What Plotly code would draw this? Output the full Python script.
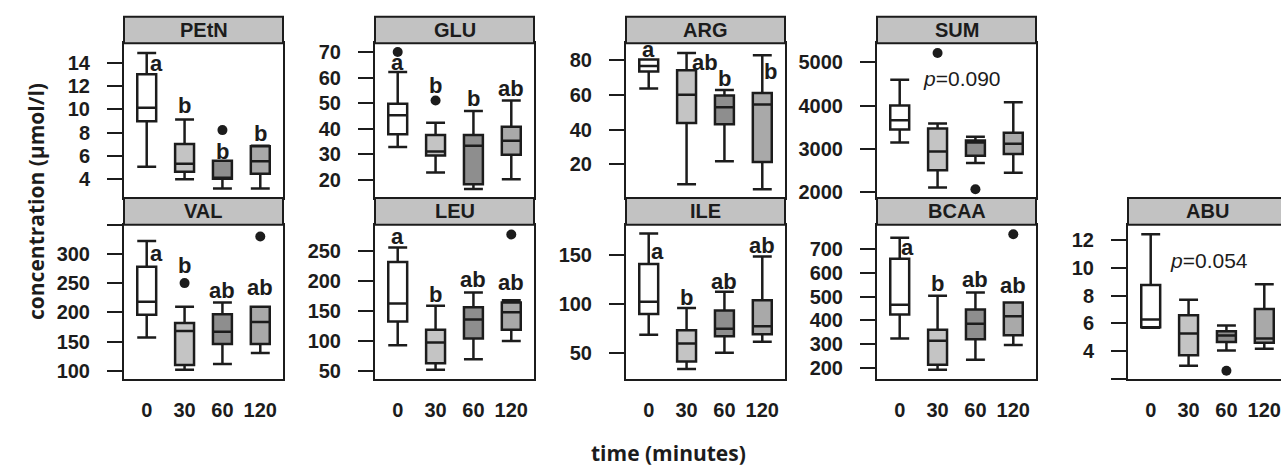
import plotly.graph_objects as go

# ---- data: box statistics per amino acid, one value per sampling time ----
times = ["0", "30", "60", "120"]

petn = dict(lower=[5.03, 3.94, 3.15, 3.15], q1=[8.98, 4.60, 4.00, 4.43],
            median=[10.15, 5.30, 4.05, 5.50], q3=[13.06, 7.00, 5.55, 6.80],
            upper=[14.9, 9.13, 5.55, 6.85])
glu = dict(lower=[32.9, 22.9, 16.5, 20.3], q1=[37.9, 29.6, 18.3, 29.9],
           median=[45.3, 31.2, 33.4, 35.4], q3=[49.8, 37.6, 37.6, 40.8],
           upper=[62.3, 42.4, 47.0, 51.1])
arg = dict(lower=[63.7, 8.4, 21.7, 5.6], q1=[73.4, 43.8, 43.1, 21.3],
           median=[76.6, 60.1, 52.9, 54.4], q3=[80.4, 74.1, 59.6, 61.1],
           upper=[80.4, 84.1, 62.8, 82.8])
sum_aa = dict(lower=[3147, 2113, 2680, 2454], q1=[3451, 2513, 2846, 2884],
              median=[3662, 2943, 3150, 3118], q3=[4002, 3474, 3193, 3374],
              upper=[4592, 3587, 3283, 4077])
val = dict(lower=[157, 101.7, 111.6, 130.4], q1=[195.8, 110, 145.9, 145.9],
           median=[218, 168.2, 167, 183.6], q3=[277.9, 182, 197, 209.7],
           upper=[322.1, 209.7, 216.9, 209.7])
leu = dict(lower=[93.5, 52.8, 70, 100.5], q1=[132.6, 63.5, 104.3, 118.9],
           median=[162.5, 97.8, 135.9, 147.8], q3=[230.9, 118.9, 156, 164.1],
           upper=[254.9, 158.7, 180.4, 167.9])
ile = dict(lower=[68.4, 33.2, 50, 61.1], q1=[89.6, 40.9, 66.8, 68.8],
           median=[102.1, 59.4, 74.5, 76.9], q3=[140.6, 72.9, 93, 103.7],
           upper=[171.9, 95.6, 112.4, 148.4])
bcaa = dict(lower=[324, 193.4, 234.7, 296.7], q1=[424.8, 214, 321.5, 338],
            median=[466, 314.5, 386, 417.8], q3=[658.7, 361.2, 445.5, 475.6],
            upper=[747, 503.3, 517, 475.6])
abu = dict(lower=[5.67, 2.92, 4.04, 4.16], q1=[5.72, 3.68, 4.64, 4.60],
           median=[6.27, 5.26, 5.12, 4.90], q3=[8.77, 6.58, 5.43, 7.03],
           upper=[12.43, 7.70, 5.84, 8.82])

# outliers: (time index, value)
petn_out = [(2, 8.21)]
glu_out = [(0, 70.1), (1, 51.1)]
arg_out = []
sum_out = [(1, 5211), (2, 2075)]
val_out = [(1, 250.1), (3, 329.9)]
leu_out = [(3, 276.6)]
ile_out = []
bcaa_out = [(3, 762)]
abu_out = [(2, 2.57)]

# significance letters per time point (None = no letter)
petn_sig = ["a", "b", "b", "b"]
glu_sig = ["a", "b", "b", "ab"]
arg_sig = ["a", "ab", "b", "b"]
sum_sig = [None, None, None, None]
val_sig = ["a", "b", "ab", "ab"]
leu_sig = ["a", "b", "ab", "ab"]
ile_sig = ["a", "b", "ab", "ab"]
bcaa_sig = ["a", "b", "ab", "ab"]
abu_sig = [None, None, None, None]

# y tick values per panel (blank label where tick sits on the panel edge)
petn_ticks = [4, 6, 8, 10, 12, 14]
glu_ticks = [20, 30, 40, 50, 60, 70]
arg_ticks = [20, 40, 60, 80]
sum_ticks = [2000, 3000, 4000, 5000]
val_ticks = [100, 150, 200, 250, 300, 350]
leu_ticks = [50, 100, 150, 200, 250]
ile_ticks = [50, 100, 150]
bcaa_ticks = [200, 300, 400, 500, 600, 700]
abu_ticks = [2, 4, 6, 8, 10, 12]

# ---- layout of the panels ----
W, H = 1281, 470
COL_LEFT = [124, 375, 626, 877, 1128]
PANEL_W = 159
ROW_PLOT = [(42, 199), (226, 383)]
STRIP_H = 27
X_RANGE = [0.4, 4.6]
PX_PER_UNIT = PANEL_W / (X_RANGE[1] - X_RANGE[0])

BOX_FILL = ["#ffffff", "#c4c4c4", "#8e8e8e", "#a9a9a9"]
INK = "#1c1c1c"
STRIP_FILL = "#c2c2c2"
TICK_FONT = dict(family="Liberation Sans, Arial", size=20, color=INK, weight="bold")
TITLE_FONT = dict(family="Open Sans", size=21, color=INK)

# name, stats, outliers, letters, ticks, row, col, y-range, hidden tick labels,
# letter placement (x offset, y value), p-value text placement
panels = [
    ("PEtN", petn, petn_out, petn_sig, petn_ticks, 0, 0, [2.32, 15.73], [],
     [(0.27, 13.97), (0, 10.35), (0, 6.36), (0, 7.93)], None),
    ("GLU", glu, glu_out, glu_sig, glu_ticks, 0, 1, [12.94, 73.47], [],
     [(0, 65.9), (0, 56.9), (0, 51.8), (0, 56.0)], None),
    ("ARG", arg, arg_out, arg_sig, arg_ticks, 0, 2, [0.52, 89.65], [],
     [(0, 86.1), (0.49, 78.9), (0, 69.6), (0.23, 73.4)], None),
    ("SUM", sum_aa, sum_out, sum_sig, sum_ticks, 0, 3, [1871, 5431], [],
     [None] * 4, ("<i>p</i>=0.090", 2.65, 4615)),
    ("VAL", val, val_out, val_sig, val_ticks, 1, 0, [85.5, 350.2], [350],
     [(0.27, 301), (0, 280), (0, 237.3), (0, 243)], None),
    ("LEU", leu, leu_out, leu_sig, leu_ticks, 1, 1, [37, 292.9], [],
     [(0, 272.8), (0, 177.6), (0, 202), (0, 196.7)], None),
    ("ILE", ile, ile_out, ile_sig, ile_ticks, 1, 2, [22.8, 180.9], [],
     [(0.24, 153.4), (0, 106.4), (0, 123.2), (0, 159.5)], None),
    ("BCAA", bcaa, bcaa_out, bcaa_sig, bcaa_ticks, 1, 3, [153, 802], [],
     [(0.2, 705.8), (0, 554), (0, 572), (0, 544.6)], None),
    ("ABU", abu, abu_out, abu_sig, abu_ticks, 1, 4, [1.95, 13.13], [2],
     [None] * 4, ("<i>p</i>=0.054", 2.54, 10.57)),
]

fig = go.Figure()
layout = dict(
    width=W, height=H, margin=dict(l=0, r=0, t=0, b=0),
    paper_bgcolor="white", plot_bgcolor="white", showlegend=False,
    shapes=[], annotations=[],
)

for i, (name, st, outs, sig, ticks, row, col, yr, hidden, lab_pos, ptxt) in enumerate(panels):
    n = i + 1
    xa, ya = f"x{n}", f"y{n}"
    left = COL_LEFT[col]
    right = left + PANEL_W
    top, bottom = ROW_PLOT[row]
    clipped = right > W
    x_dom = [left / W, min(right, W) / W]
    xr = list(X_RANGE)
    if clipped:
        xr[1] = X_RANGE[0] + (W - left) / PX_PER_UNIT

    for k in range(4):
        fig.add_trace(go.Box(
            x=[k + 1], q1=[st["q1"][k]], median=[st["median"][k]], q3=[st["q3"][k]],
            lowerfence=[st["lower"][k]], upperfence=[st["upper"][k]],
            width=0.5, whiskerwidth=1, fillcolor=BOX_FILL[k],
            line=dict(color=INK, width=2.5), boxpoints=False,
            xaxis=xa, yaxis=ya, hoverinfo="skip",
        ))
    if outs:
        fig.add_trace(go.Scatter(
            x=[o[0] + 1 for o in outs], y=[o[1] for o in outs], mode="markers",
            marker=dict(color=INK, size=10), xaxis=xa, yaxis=ya, hoverinfo="skip",
        ))

    layout[f"xaxis{n}"] = dict(
        domain=x_dom, anchor=ya, range=xr, tickvals=[1, 2, 3, 4], ticktext=times,
        showticklabels=(row == 1), ticks="outside", ticklen=12,
        tickcolor="rgba(0,0,0,0)", tickfont=TICK_FONT,
        showline=True, mirror=True, linecolor=INK, linewidth=2,
        showgrid=False, zeroline=False, fixedrange=True,
    )
    layout[f"yaxis{n}"] = dict(
        domain=[1 - bottom / H, 1 - top / H], anchor=xa, range=yr,
        tickvals=ticks, ticktext=["" if t in hidden else str(t) for t in ticks],
        ticks="outside", ticklen=15, tickwidth=2, tickcolor=INK,
        ticklabelstandoff=13, tickfont=TICK_FONT,
        showline=True, mirror=(not clipped), linecolor=INK, linewidth=2,
        showgrid=False, zeroline=False, fixedrange=True,
    )

    # strip header above the panel
    layout["shapes"].append(dict(
        type="rect", xref="paper", yref="paper",
        x0=left / W, x1=right / W, y0=1 - top / H, y1=1 - (top - STRIP_H) / H,
        fillcolor=STRIP_FILL, line=dict(color=INK, width=2), layer="above",
    ))
    layout["annotations"].append(dict(
        text=f"<b>{name}</b>", xref="paper", yref="paper",
        x=(left + PANEL_W / 2) / W, y=1 - (top - STRIP_H / 2) / H,
        showarrow=False, xanchor="center", yanchor="middle",
        font=dict(family="Liberation Sans, Arial", size=20, color=INK),
    ))

    for k in range(4):
        if sig[k] is None:
            continue
        dx, yv = lab_pos[k]
        layout["annotations"].append(dict(
            text=f"<b>{sig[k]}</b>", xref=xa, yref=ya, x=k + 1 + dx, y=yv,
            showarrow=False, xanchor="center", yanchor="middle",
            font=dict(family="Liberation Sans, Arial", size=22, color=INK),
        ))
    if ptxt:
        txt, px_, py_ = ptxt
        layout["annotations"].append(dict(
            text=txt, xref=xa, yref=ya, x=px_, y=py_, showarrow=False,
            xanchor="center", yanchor="middle",
            font=dict(family="Liberation Sans, Arial", size=21, color=INK),
        ))

# shared axis titles
layout["annotations"].append(dict(
    text="<b>concentration (µmol/l)</b>", xref="paper", yref="paper",
    x=36 / W, y=1 - 203 / H, textangle=-90, showarrow=False,
    xanchor="center", yanchor="middle", font=TITLE_FONT,
))
layout["annotations"].append(dict(
    text="<b>time (minutes)</b>", xref="paper", yref="paper",
    x=668 / W, y=1 - 458 / H, showarrow=False,
    xanchor="center", yanchor="middle", font=TITLE_FONT,
))

fig.update_layout(**layout)
fig.write_html("out.html")
